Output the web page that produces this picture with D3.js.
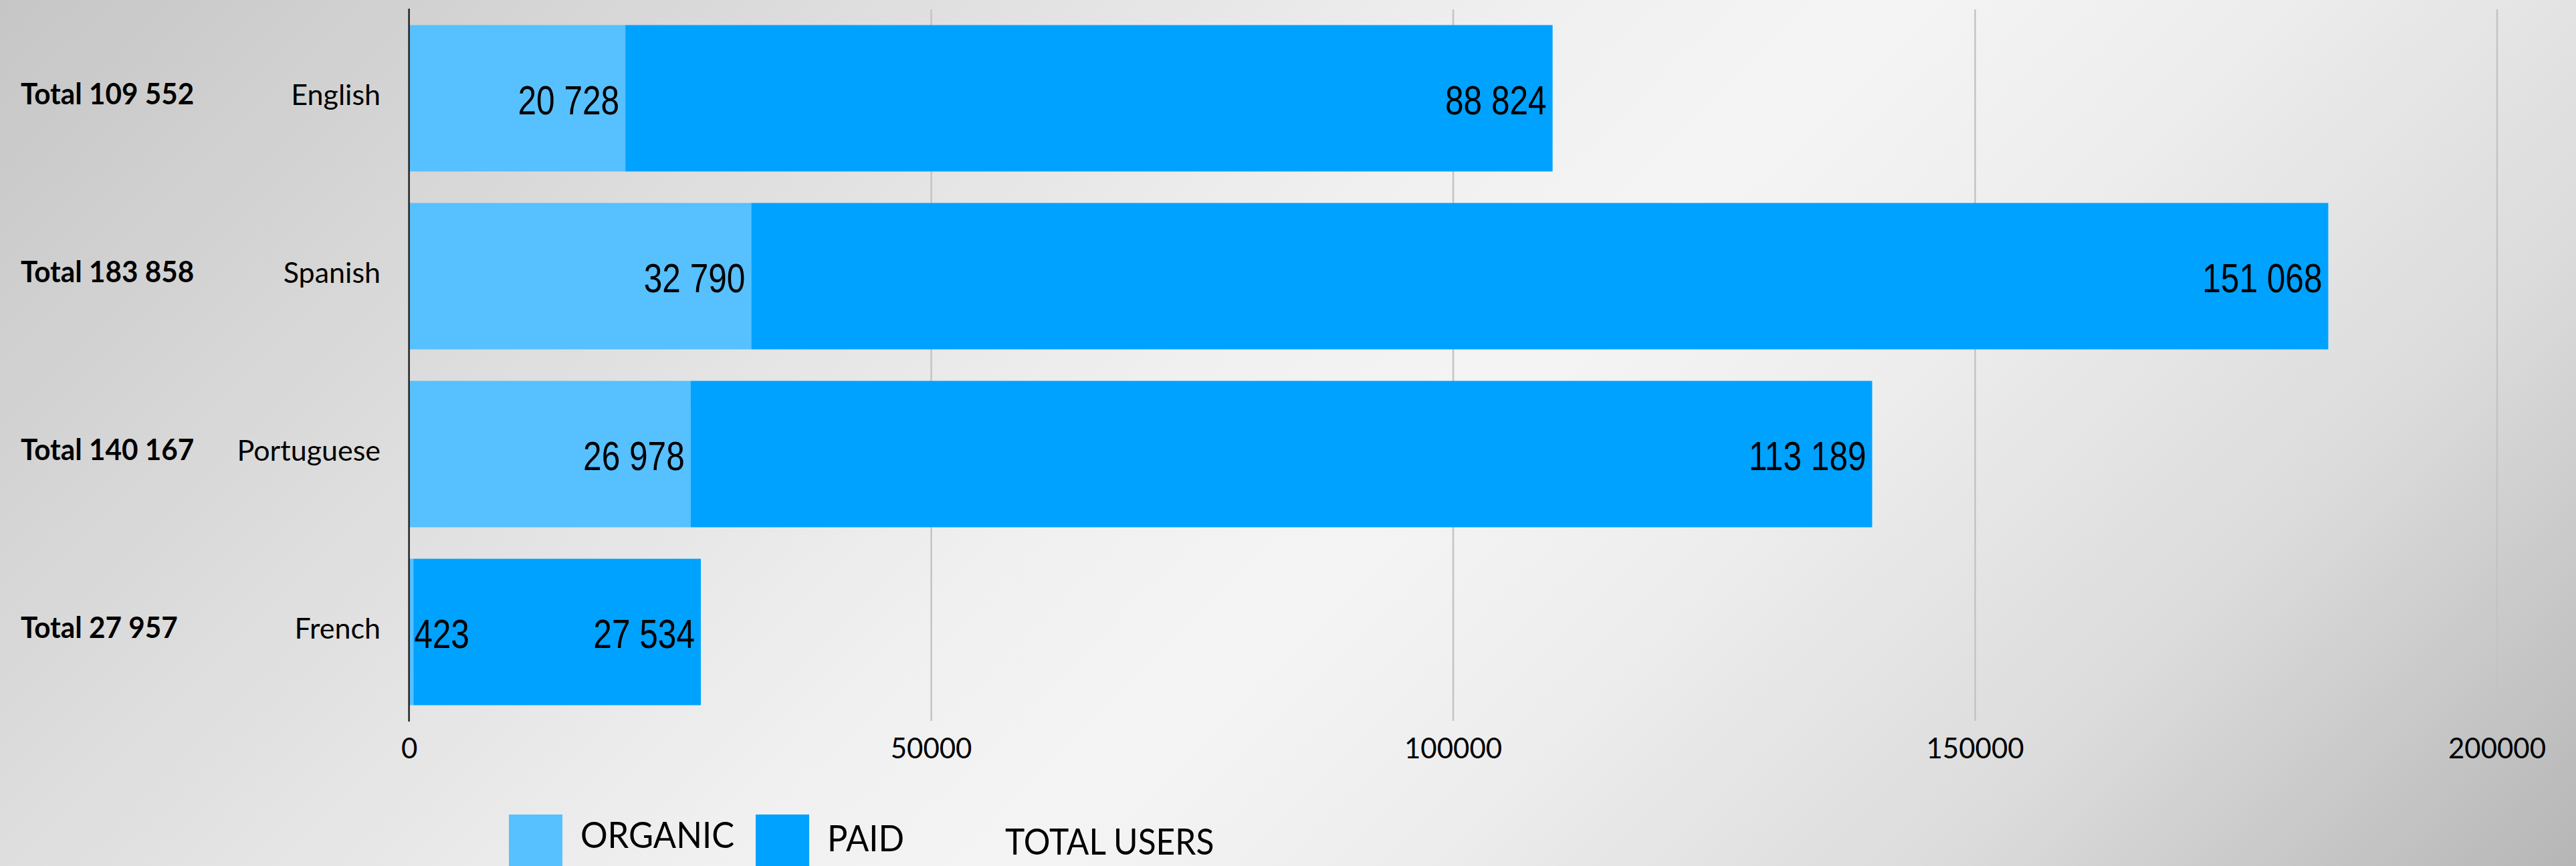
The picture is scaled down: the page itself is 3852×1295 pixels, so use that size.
<!DOCTYPE html>
<html>
<head>
<meta charset="utf-8">
<script src="https://cdn.jsdelivr.net/npm/d3@7"></script>
<style>
  html, body { margin: 0; padding: 0; overflow: hidden; background: #e8e8e8; }
  svg { display: block; }
</style>
</head>
<body>
<svg id="chart" width="3852" height="1295"></svg>
<script>
// Users per language, split by acquisition channel
const languages = ["English", "Spanish", "Portuguese", "French"];
const organic = [20728, 32790, 26978, 423];
const paid = [88824, 151068, 113189, 27534];
const tickValues = [0, 50000, 100000, 150000, 200000];
const seriesNames = ["ORGANIC", "PAID"];
const legendTitle = "TOTAL USERS";

const W = 3852, H = 1295;
const colors = { ORGANIC: "#57C0FF", PAID: "#00A2FF" };

const svg = d3.select("#chart");

// Diagonal grey-white-grey backdrop
const defs = svg.append("defs");
const grad = defs.append("linearGradient")
  .attr("id", "bg")
  .attr("gradientUnits", "userSpaceOnUse")
  .attr("x1", 0).attr("y1", 0)
  .attr("x2", (W + H) / 2).attr("y2", (W + H) / 2);
[
  [0, "#c6c6c6"], [0.2, "#d9d9d9"], [0.45, "#f0f0f0"], [0.55, "#f4f4f4"],
  [0.65, "#eeeeee"], [0.82, "#dbdbdb"], [1, "#b6b6b6"]
].forEach(([o, c]) => grad.append("stop").attr("offset", o).attr("stop-color", c));
svg.append("rect").attr("width", W).attr("height", H).attr("fill", "url(#bg)");

// Scales
const x = d3.scaleLinear().domain([0, 200000]).range([611.6, 3733.5]);
const y = d3.scaleBand().domain(languages).range([13, 1079])
  .paddingInner(0.177).paddingOuter(0.092);

const plotTop = 14, plotBottom = 1078;

// Vertical gridlines
svg.append("g")
  .attr("transform", `translate(0,${plotBottom})`)
  .call(d3.axisBottom(x).tickValues(tickValues.filter(v => v > 0))
    .tickSize(-(plotBottom - plotTop)).tickFormat(""))
  .call(g => g.select(".domain").remove())
  .call(g => g.selectAll("line").attr("stroke", "#c4c4c4").attr("stroke-width", 2.5));

// Tick labels
svg.append("g")
  .attr("transform", `translate(0,${plotBottom})`)
  .call(d3.axisBottom(x).tickValues(tickValues).tickSize(0).tickPadding(0).tickFormat(d3.format("d")))
  .call(g => g.select(".domain").remove())
  .call(g => g.selectAll("text")
    .attr("y", 56).attr("dy", null)
    .attr("fill", "#000")
    .style("font-family", "Lato, 'Open Sans', sans-serif")
    .style("font-size", "42px"));

// Stacked bars
const rows = languages.map((lang, i) => ({
  lang, organic: organic[i], paid: paid[i], total: organic[i] + paid[i]
}));
const stack = d3.stack().keys(["organic", "paid"])(rows);
const fmt = v => d3.format(",")(v).replace(/,/g, " ");

const barLayer = svg.append("g");
const labelLayer = svg.append("g");

stack.forEach((layer, li) => {
  const name = seriesNames[li];
  barLayer.append("g").selectAll("rect").data(layer).join("rect")
    .attr("x", d => x(d[0]))
    .attr("y", d => y(d.data.lang))
    .attr("width", d => x(d[1]) - x(d[0]))
    .attr("height", y.bandwidth())
    .attr("fill", colors[name]);
});

// Value labels at the inside end of each segment (drawn above all bars)
stack.forEach(layer => {
  labelLayer.append("g").selectAll("text").data(layer).join("text")
    .text(d => fmt(d[1] - d[0]))
    .style("font-family", "'Liberation Sans', Arial, sans-serif")
    .style("font-size", "62px")
    .attr("fill", "#000")
    .each(function (d) {
      const sx = 0.8;
      const w = this.getComputedTextLength() * sx;
      const x0 = x(d[0]), x1 = x(d[1]);
      const cy = y(d.data.lang) + y.bandwidth() / 2 + 24;
      if (w + 10 > x1 - x0) {
        d3.select(this).attr("text-anchor", "start")
          .attr("transform", `translate(${x1 + 1},${cy}) scale(${sx},1)`);
      } else {
        d3.select(this).attr("text-anchor", "end")
          .attr("transform", `translate(${x1 - 9},${cy}) scale(${sx},1)`);
      }
    });
});

// Axis line at zero
svg.append("line")
  .attr("x1", x(0)).attr("x2", x(0))
  .attr("y1", 13).attr("y2", 1079)
  .attr("stroke", "#222").attr("stroke-width", 2.5);

// Category labels and totals
svg.append("g").selectAll("text").data(rows).join("text")
  .attr("x", 569)
  .attr("y", d => y(d.lang) + y.bandwidth() / 2 + 10)
  .attr("text-anchor", "end")
  .style("font-family", "Lato, 'Open Sans', sans-serif")
  .style("font-size", "43px")
  .text(d => d.lang);

svg.append("g").selectAll("text").data(rows).join("text")
  .attr("transform", d => `translate(31,${y(d.lang) + y.bandwidth() / 2 + 9}) scale(0.96,1)`)
  .style("font-family", "Lato, 'Open Sans', sans-serif")
  .style("font-weight", "bold")
  .style("font-size", "44px")
  .text(d => "Total " + fmt(d.total));

// Legend
const legend = svg.append("g");
const legendItems = [
  { name: seriesNames[0], sw: 761, tx: 868, ty: 1268 },
  { name: seriesNames[1], sw: 1130, tx: 1237, ty: 1273 }
];
legend.selectAll("rect").data(legendItems).join("rect")
  .attr("x", d => d.sw).attr("y", 1218)
  .attr("width", 80).attr("height", 90)
  .attr("fill", d => colors[d.name]);
legend.selectAll("text.item").data(legendItems).join("text")
  .attr("class", "item")
  .attr("transform", d => `translate(${d.tx},${d.ty}) scale(0.94,1)`)
  .style("font-family", "Lato, 'Open Sans', sans-serif")
  .style("font-size", "54px")
  .text(d => d.name);
legend.append("text")
  .attr("transform", "translate(1503,1278) scale(0.92,1)")
  .style("font-family", "Lato, 'Open Sans', sans-serif")
  .style("font-size", "54px")
  .text(legendTitle);
</script>
</body>
</html>
